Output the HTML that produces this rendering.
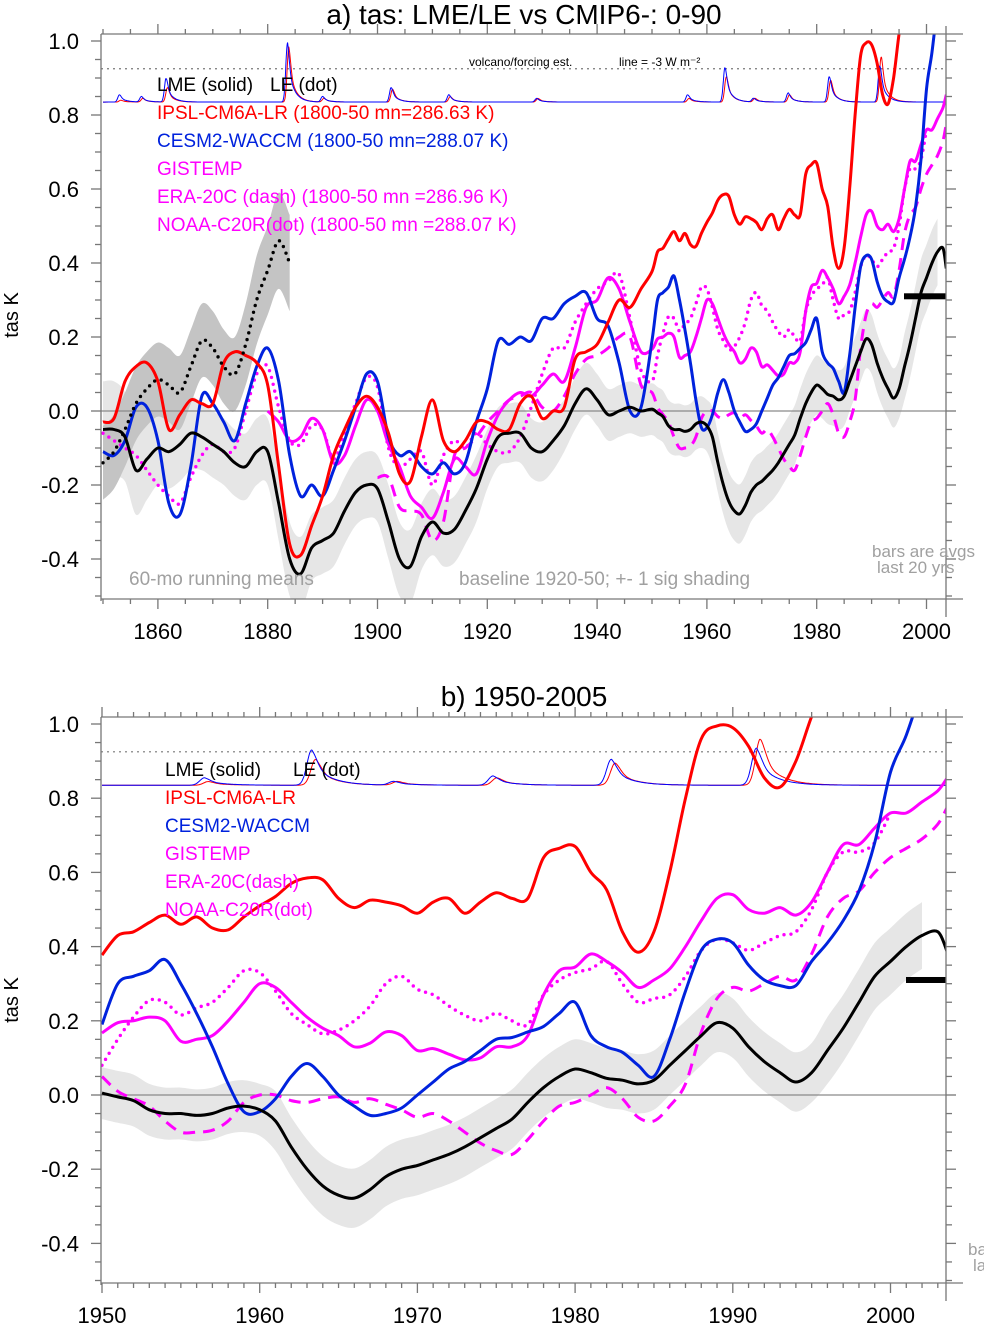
<!DOCTYPE html>
<html><head><meta charset="utf-8"><style>
html,body{margin:0;padding:0;background:#fff;}
svg{display:block;font-family:"Liberation Sans",Arial,sans-serif;}
</style></head><body>
<svg id="chart" width="984" height="1325" viewBox="0 0 984 1325" xmlns="http://www.w3.org/2000/svg">
<defs>
<clipPath id="clipA"><rect x="101" y="34" width="845" height="565"/></clipPath>
<clipPath id="clipB"><rect x="101" y="717" width="845" height="566"/></clipPath>
</defs>
<g id="panelA"></g>
<g id="panelB"></g>
</svg>
<script>
// ---------- DATA: panel a (1850-1950, 2-year steps) ----------
const lmeA  = [-0.05,-0.05,-0.07,-0.16,-0.13,-0.10,-0.11,-0.09,-0.06,-0.07,-0.09,-0.11,-0.14,-0.15,-0.11,-0.11,-0.25,-0.40,-0.44,-0.37,-0.35,-0.33,-0.27,-0.22,-0.20,-0.21,-0.30,-0.40,-0.42,-0.34,-0.30,-0.33,-0.32,-0.27,-0.21,-0.13,-0.07,-0.06,-0.06,-0.10,-0.11,-0.08,-0.04,0.02,0.06,0.03,-0.01,0.0,0.01,0.0,0.0];
const lmeSigA = [0.13,0.13,0.12,0.12,0.11,0.10,0.10,0.10,0.10,0.09,0.09,0.09,0.09,0.09,0.09,0.09,0.10,0.10,0.10,0.09,0.09,0.09,0.09,0.09,0.09,0.09,0.10,0.10,0.10,0.09,0.09,0.09,0.09,0.09,0.09,0.08,0.08,0.08,0.08,0.08,0.08,0.08,0.07,0.07,0.07,0.07,0.07,0.07,0.07,0.07,0.07];
const ipslA = [-0.03,-0.02,0.08,0.12,0.13,0.08,-0.05,-0.01,0.03,0.02,0.02,0.13,0.16,0.15,0.13,0.07,-0.15,-0.36,-0.39,-0.31,-0.23,-0.12,-0.05,0.01,0.04,0.01,-0.06,-0.17,-0.19,-0.07,0.03,-0.08,-0.11,-0.08,-0.03,-0.03,-0.05,-0.05,0.02,0.04,-0.02,0.0,0.01,0.14,0.16,0.18,0.24,0.30,0.28,0.33,0.38];
const cesmA = [-0.11,-0.12,-0.08,0.01,0.01,-0.08,-0.25,-0.28,-0.15,0.04,0.02,-0.03,-0.08,0.02,0.12,0.17,0.08,-0.12,-0.23,-0.20,-0.23,-0.16,-0.08,0.01,0.10,0.08,-0.07,-0.12,-0.11,-0.15,-0.17,-0.14,-0.17,-0.14,-0.03,0.06,0.19,0.18,0.20,0.19,0.25,0.25,0.29,0.31,0.32,0.25,0.23,0.13,0.0,0.01,0.19];
const gistA = [null,null,null,null,null,null,null,null,null,null,null,null,null,null,null,0.0,-0.03,-0.08,-0.07,-0.02,-0.05,-0.14,-0.12,-0.04,0.03,0.0,-0.09,-0.15,-0.23,-0.26,-0.29,-0.22,-0.13,-0.15,-0.17,-0.08,-0.01,0.03,0.05,0.04,0.07,0.10,0.08,0.17,0.28,0.30,0.36,0.33,0.24,0.16,0.17];
const noaaA = [-0.06,-0.08,-0.10,-0.12,-0.16,-0.20,-0.23,-0.25,-0.18,-0.12,-0.09,-0.11,-0.10,0.0,0.10,0.12,0.01,-0.08,-0.09,-0.04,-0.05,-0.13,-0.06,0.02,0.09,0.065,-0.10,-0.15,-0.13,-0.11,-0.20,-0.12,-0.08,-0.10,-0.06,-0.09,-0.11,-0.11,-0.07,0.01,0.10,0.17,0.17,0.24,0.29,0.33,0.35,0.37,0.25,0.11,0.07];
const eraA  = [null,null,null,null,null,null,null,null,null,null,null,null,null,null,null,null,null,null,null,null,null,null,null,null,null,-0.18,-0.18,-0.26,-0.27,-0.28,-0.35,-0.30,-0.12,-0.10,-0.07,-0.03,0.0,0.03,0.04,0.05,0.01,0.0,0.04,0.10,0.14,0.15,0.17,0.20,0.20,0.07,0.03];
const leA   = [-0.14,-0.11,-0.05,0.02,0.06,0.085,0.07,0.05,0.12,0.19,0.17,0.12,0.10,0.18,0.30,0.38,0.46,0.40,null,null,null,null,null,null,null,null,null,null,null,null,null,null,null,null,null,null,null,null,null,null,null,null,null,null,null,null,null,null,null,null,null];
const leSigA = [0.10,0.10,0.10,0.10,0.10,0.10,0.10,0.10,0.10,0.10,0.10,0.10,0.10,0.11,0.12,0.12,0.13,0.13,null,null,null,null,null,null,null,null,null,null,null,null,null,null,null,null,null,null,null,null,null,null,null,null,null,null,null,null,null,null,null,null,null];

// ---------- DATA: panel b (1950-2003, yearly, last point 2003.6) ----------
const lmeB  = [0.005,-0.005,-0.015,-0.04,-0.05,-0.05,-0.055,-0.05,-0.035,-0.03,-0.04,-0.07,-0.14,-0.20,-0.245,-0.27,-0.278,-0.255,-0.22,-0.20,-0.19,-0.175,-0.16,-0.14,-0.115,-0.09,-0.065,-0.02,0.02,0.05,0.07,0.06,0.045,0.04,0.03,0.04,0.08,0.12,0.16,0.195,0.18,0.13,0.09,0.06,0.035,0.06,0.12,0.18,0.25,0.32,0.36,0.40,0.43,0.44,0.385];
const lmeSigB = [0.07,0.07,0.07,0.07,0.07,0.07,0.07,0.07,0.07,0.07,0.07,0.08,0.08,0.08,0.08,0.08,0.08,0.08,0.08,0.08,0.08,0.08,0.08,0.08,0.08,0.08,0.08,0.08,0.08,0.08,0.08,0.08,0.08,0.08,0.08,0.08,0.08,0.08,0.08,0.08,0.08,0.08,0.08,0.08,0.08,0.08,0.09,0.09,0.09,0.09,0.09,0.09,0.09,null,null];
const ipslB = [0.377,0.43,0.44,0.465,0.485,0.46,0.48,0.45,0.445,0.48,0.51,0.535,0.57,0.585,0.58,0.53,0.505,0.525,0.52,0.51,0.49,0.52,0.53,0.49,0.52,0.545,0.53,0.53,0.64,0.665,0.67,0.60,0.553,0.44,0.385,0.44,0.60,0.80,0.96,0.995,0.99,0.94,0.855,0.83,0.90,1.02,1.12,1.22,1.32,1.42,1.52,1.62,1.72,1.82,1.88];
const cesmB = [0.19,0.30,0.32,0.335,0.365,0.30,0.22,0.13,0.03,-0.045,-0.045,-0.01,0.05,0.085,0.05,0.0,-0.03,-0.055,-0.05,-0.035,0.0,0.035,0.07,0.09,0.12,0.15,0.155,0.17,0.185,0.22,0.25,0.16,0.13,0.115,0.08,0.05,0.15,0.28,0.39,0.42,0.41,0.35,0.31,0.295,0.295,0.36,0.41,0.47,0.55,0.68,0.87,0.97,1.10,1.25,1.32];
const gistB = [0.167,0.195,0.20,0.21,0.20,0.145,0.15,0.16,0.20,0.25,0.30,0.29,0.25,0.21,0.18,0.16,0.13,0.14,0.17,0.16,0.12,0.125,0.11,0.095,0.10,0.13,0.13,0.16,0.27,0.335,0.345,0.38,0.36,0.33,0.29,0.31,0.34,0.40,0.47,0.53,0.54,0.50,0.49,0.505,0.485,0.52,0.60,0.675,0.675,0.72,0.76,0.76,0.79,0.82,0.855];
const noaaB = [0.08,0.15,0.21,0.255,0.25,0.216,0.235,0.25,0.29,0.335,0.33,0.28,0.22,0.19,0.165,0.175,0.20,0.24,0.30,0.32,0.285,0.27,0.24,0.215,0.20,0.22,0.20,0.19,0.27,0.31,0.33,0.34,0.36,0.30,0.25,0.26,0.27,0.32,0.39,0.42,0.41,0.39,0.41,0.43,0.44,0.50,0.60,0.655,0.655,0.68,0.76,null,null,null,null];
const eraB  = [0.05,0.01,-0.01,-0.03,-0.07,-0.10,-0.10,-0.095,-0.07,-0.02,0.0,0.0,-0.015,-0.02,-0.01,-0.005,-0.02,-0.01,-0.025,-0.04,-0.06,-0.05,-0.07,-0.10,-0.13,-0.15,-0.16,-0.12,-0.07,-0.03,-0.02,0.0,0.02,-0.01,-0.06,-0.07,-0.03,0.03,0.17,0.26,0.29,0.28,0.30,0.32,0.31,0.38,0.48,0.53,0.55,0.60,0.64,0.665,0.69,0.73,0.776];
const barValue = 0.31;

// volcanic forcing estimate: eruption years and peak amplitudes
const volcYears = [1853, 1857, 1861.5, 1883.6, 1890, 1902.5, 1913, 1929, 1956.5, 1963.3, 1968.5, 1974.8, 1982.3, 1991.5];
const volcRed   = [0.005, 0.01, 0.04, 0.15, 0.01, 0.035, 0.015, 0.01, 0.01, 0.07, 0.01, 0.02, 0.06, 0.125];
const volcBlue  = [0.02, 0.015, 0.065, 0.16, 0.015, 0.04, 0.02, 0.01, 0.02, 0.095, 0.01, 0.025, 0.07, 0.10];
const volcBase = 0.835;
const forcingLine = 0.925;

const xTicksA = [1860,1880,1900,1920,1940,1960,1980,2000];
const xTicksB = [1950,1960,1970,1980,1990,2000];
const yTicks = [1.0,0.8,0.6,0.4,0.2,0.0,-0.2,-0.4];

// ---------- helpers ----------
const NS = "http://www.w3.org/2000/svg";
function mk(parent, tag, attrs){const e=document.createElementNS(NS,tag);for(const k in attrs)e.setAttribute(k,attrs[k]);parent.appendChild(e);return e;}
const yearsA=[];for(let y=1850;y<=1950;y+=2)yearsA.push(y);
const yearsB=[];for(let y=1950;y<=2003;y++)yearsB.push(y);yearsB.push(2003.6);
const yearsAll=yearsA.slice(0,-1).concat(yearsB);
function joinA(a,b){return a.slice(0,-1).concat(b);}

function smoothPath(pts){
  if(pts.length<2)return "";
  let d="M"+pts[0][0].toFixed(1)+","+pts[0][1].toFixed(1);
  for(let i=0;i<pts.length-1;i++){
    const p0=pts[i-1]||pts[i],p1=pts[i],p2=pts[i+1],p3=pts[i+2]||p2;
    const c1=[p1[0]+(p2[0]-p0[0])/6,p1[1]+(p2[1]-p0[1])/6];
    const c2=[p2[0]-(p3[0]-p1[0])/6,p2[1]-(p3[1]-p1[1])/6];
    d+="C"+c1[0].toFixed(1)+","+c1[1].toFixed(1)+" "+c2[0].toFixed(1)+","+c2[1].toFixed(1)+" "+p2[0].toFixed(1)+","+p2[1].toFixed(1);
  }
  return d;
}
function segments(xs,vs,X,Y){
  const segs=[];let cur=[];
  for(let i=0;i<xs.length;i++){
    if(vs[i]===null||vs[i]===undefined){if(cur.length)segs.push(cur);cur=[];continue;}
    cur.push([X(xs[i]),Y(vs[i])]);
  }
  if(cur.length)segs.push(cur);return segs;
}

function drawPanel(g, P){
  const X=P.X, Y=P.Y;
  const clip=mk(g,"g",{"clip-path":"url(#"+P.clip+")"});
  
  
  function band(vals,sig,fill,name){
    const up=[],dn=[];
    for(let i=0;i<P.years.length;i++){if(vals[i]===null||sig[i]===null||sig[i]===undefined)continue;up.push([X(P.years[i]),Y(vals[i]+sig[i])]);dn.push([X(P.years[i]),Y(vals[i]-sig[i])]);}
    let d=smoothPath(up);const rd=dn.slice().reverse();
    d+="L"+rd[0][0].toFixed(1)+","+rd[0][1].toFixed(1)+smoothPath(rd).replace(/^M[^C]*/,"")+"Z";
    const p=mk(clip,"path",{d:d,fill:fill,stroke:"none"});
    
    
  }
  band(P.lme,P.lmeSig,"#e6e6e6","lme-sigma-shading");
  if(P.le) band(P.le,P.leSig,"#c4c4c4","le-sigma-shading");
  const z=mk(clip,"line",{x1:101,x2:946,y1:Y(0),y2:Y(0),stroke:"#8a8a8a","stroke-width":1.2});
  
  
  const f=mk(clip,"line",{x1:101,x2:946,y1:Y(forcingLine),y2:Y(forcingLine),stroke:"#777","stroke-width":1.2,"stroke-dasharray":"2,4"});
  
  
  function volc(amps,color,shift,name){
    const pts=[];
    for(let t=P.years[0];t<=P.years[P.years.length-1]+0.01;t+=P.vstep){
      let v=volcBase;
      for(let k=0;k<volcYears.length;k++){const dt=t-(volcYears[k]+shift);
        if(dt<0)v+=amps[k]*Math.exp(-(dt*dt)/(2*0.3*0.3));
        else v+=amps[k]*(0.35*Math.exp(-(dt*dt)/(2*0.35*0.35))+0.65*Math.exp(-dt/1.1));}
      pts.push([X(t),Y(v)]);
    }
    const p=mk(clip,"path",{d:smoothPath(pts),fill:"none",stroke:color,"stroke-width":1});
    
    
  }
  volc(volcRed,"#ff0000",0.25,"ipsl-volcanic-forcing-line");
  volc(volcBlue,"#0000ff",0,"cesm-volcanic-forcing-line");
  function series(vals,color,dash,name,w){
    segments(P.years,vals,X,Y).forEach(s=>{
      const a={d:smoothPath(s),fill:"none",stroke:color,"stroke-width":w||3,"stroke-linejoin":"round"};
      if(dash){a["stroke-dasharray"]=dash;}
      if(dash==="0,7"){a["stroke-linecap"]="round";a["stroke-width"]=3.4;}
      const p=mk(clip,"path",a);
      
      
    });
  }
  series(P.era,"#ff00ff","12,8","era20c-line");
  series(P.noaa,"#ff00ff","0,7","noaa-c20r-line");
  series(P.gist,"#ff00ff",null,"gistemp-line");
  series(P.cesm,"#0022dd",null,"cesm2-waccm-line");
  series(P.ipsl,"#ff0000",null,"ipsl-cm6a-lr-line");
  if(P.le) series(P.le,"#000000","0,7","le-line");
  series(P.lme,"#000000",null,"lme-line");
  const b=mk(clip,"rect",{x:P.barX,y:Y(barValue)-3,width:946-P.barX,height:6,fill:"#000"});
  
  

  const ax=mk(g,"g",{stroke:"#777","stroke-width":1.3,fill:"none"});
  
  
  mk(ax,"line",{x1:101,x2:963,y1:P.top,y2:P.top});
  mk(ax,"line",{x1:101,x2:963,y1:P.bot,y2:P.bot});
  mk(ax,"line",{x1:101,x2:101,y1:P.top,y2:P.bot+2});
  mk(ax,"line",{x1:946,x2:946,y1:P.top-8,y2:P.bot+18});
  for(let t=P.tickStart;t<=P.tickEnd+1e-6;t+=P.minor){
    const x=X(t);if(x<101||x>946.5)continue;
    const major=Math.abs(((t-P.tickStart0)%P.major+P.major)%P.major)<1e-6;
    const L=major?10:5;
    mk(ax,"line",{x1:x,x2:x,y1:P.top,y2:P.top-L});
    mk(ax,"line",{x1:x,x2:x,y1:P.bot,y2:P.bot+L});
  }
  for(let k=-10;k<=20;k++){
    const v=k*0.05;const y=Y(v);if(y<P.top-0.5||y>P.bot+0.5)continue;
    const major=(k%4===0);const L=major?10:6;
    mk(ax,"line",{x1:101,x2:101-L,y1:y,y2:y});
    mk(ax,"line",{x1:946,x2:946+L,y1:y,y2:y});
  }
  P.xTicks.forEach(t=>{
    const e=mk(g,"text",{x:X(t),y:P.bot+40,"text-anchor":"middle","font-size":22,fill:"#000"});
    e.textContent=String(t);
    
    
  });
  yTicks.forEach(v=>{
    const e=mk(g,"text",{x:79,y:Y(v)+8,"text-anchor":"end","font-size":22,fill:"#000"});
    e.textContent=v.toFixed(1);
    
    
  });
  const yt=mk(g,"text",{x:0,y:0,transform:"translate(18,"+P.ytY+") rotate(-90)","text-anchor":"middle","font-size":20,fill:"#000"});
  yt.textContent="tas K";
  
  
  const tt=mk(g,"text",{x:P.titleX,y:P.titleY,"text-anchor":"middle","font-size":28,fill:"#000"});
  tt.textContent=P.title;
  
  
  P.legend.forEach(L=>{
    const e=mk(g,"text",{x:L[0],y:L[1],"font-size":L[4]||18,fill:L[3]});
    e.textContent=L[2];
    
    
  });
}

const PA={
  X:yr=>103+(yr-1850)*5.49, Y:v=>411-370*v, top:34, bot:599, clip:"clipA",
  years:yearsAll,
  lme:joinA(lmeA,lmeB), lmeSig:joinA(lmeSigA,lmeSigB), ipsl:joinA(ipslA,ipslB), cesm:joinA(cesmA,cesmB),
  gist:joinA(gistA,gistB), noaa:joinA(noaaA,noaaB), era:joinA(eraA,eraB),
  le:leA.slice(0,-1).concat(yearsB.map(()=>null)), leSig:leSigA.slice(0,-1).concat(yearsB.map(()=>null)),
  vstep:0.2, barX:904,
  tickStart:1850,tickStart0:1860,tickEnd:2005,minor:5,major:20,xTicks:xTicksA,
  ytY:315,title:"a) tas: LME/LE vs CMIP6-: 0-90",titleX:524,titleY:24,
  legend:[
    [469,66,"volcano/forcing est.","#000",12,"forcing-note"],
    [619,66,"line = -3 W m\u207B\u00B2","#000",12,"forcing-line-note"],
    [157,91,"LME (solid)","#000",19,"legend-lme"],
    [270,91,"LE (dot)","#000",19,"legend-le"],
    [157,119,"IPSL-CM6A-LR (1800-50 mn=286.63 K)","#ff0000",19,"legend-ipsl"],
    [157,147,"CESM2-WACCM (1800-50 mn=288.07 K)","#0022dd",19,"legend-cesm"],
    [157,175,"GISTEMP","#ff00ff",19,"legend-gistemp"],
    [157,203,"ERA-20C (dash) (1800-50 mn =286.96 K)","#ff00ff",19,"legend-era20c"],
    [157,231,"NOAA-C20R(dot) (1800-50 mn =288.07 K)","#ff00ff",19,"legend-noaa"],
    [129,585,"60-mo running means","#a0a0a0",19,"note-running-mean"],
    [459,585,"baseline 1920-50; +- 1 sig shading","#a0a0a0",19,"note-baseline"],
    [872,557,"bars are avgs","#a0a0a0",17,"note-bars"],
    [877,573,"last 20 yrs","#a0a0a0",17,"note-bars-2"]
  ]
};
const PB={
  X:yr=>102+(yr-1950)*15.77, Y:v=>1095-371*v, top:717, bot:1283, clip:"clipB",
  years:yearsB, lme:lmeB, lmeSig:lmeSigB, ipsl:ipslB, cesm:cesmB, gist:gistB, noaa:noaaB, era:eraB,
  le:null, vstep:0.1, barX:906,
  tickStart:1950,tickStart0:1950,tickEnd:2004,minor:1,major:10,xTicks:xTicksB,
  ytY:1000,title:"b) 1950-2005",titleX:524,titleY:706,
  legend:[
    [165,776,"LME (solid)","#000",19,"legend-lme"],
    [293,776,"LE (dot)","#000",19,"legend-le"],
    [165,804,"IPSL-CM6A-LR","#ff0000",19,"legend-ipsl"],
    [165,832,"CESM2-WACCM","#0022dd",19,"legend-cesm"],
    [165,860,"GISTEMP","#ff00ff",19,"legend-gistemp"],
    [165,888,"ERA-20C(dash)","#ff00ff",19,"legend-era20c"],
    [165,916,"NOAA-C20R(dot)","#ff00ff",19,"legend-noaa"],
    [968,1255,"ba","#a0a0a0",17,"note-bars"],
    [973,1271,"la","#a0a0a0",17,"note-bars-2"]
  ]
};
drawPanel(document.getElementById("panelA"),PA);
drawPanel(document.getElementById("panelB"),PB);
</script>
</body></html>
